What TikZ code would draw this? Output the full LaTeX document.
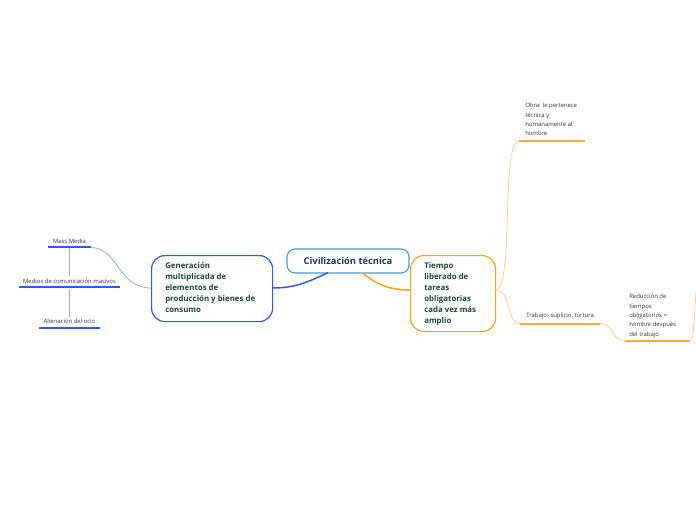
\documentclass[tikz,border=0pt]{standalone}
\usepackage{fontspec}
\setmainfont{Open Sans}
\definecolor{cblue}{HTML}{4A9AD8}
\definecolor{lblue}{HTML}{2D5BEA}
\definecolor{sblue}{HTML}{7FA0F0}
\definecolor{vblue}{HTML}{9AAEDD}
\definecolor{corange}{HTML}{F7A21B}
\definecolor{uorange}{HTML}{F9AD3A}
\definecolor{sorange}{HTML}{FCCB80}
\definecolor{navy}{HTML}{1B3560}
\definecolor{dgreen}{HTML}{194A2C}
\definecolor{stext}{HTML}{333333}
\tikzset{
  mainbox/.style={draw=cblue, line width=0.9pt, rounded corners=6pt, fill=white,
    minimum width=91.5pt, minimum height=18pt, inner sep=0pt,
    font=\bfseries\fontsize{7}{8}\selectfont, text=navy},
  topicbox/.style={draw=#1, line width=0.9pt, rounded corners=10pt, fill=white,
    inner sep=0pt, align=left, anchor=north west},
  topictext/.style={font=\bfseries\fontsize{5.9}{8.25}\selectfont, text=dgreen,
    align=left, anchor=north west, inner sep=0pt},
  subtext/.style={font=\fontsize{4.45}{7}\selectfont, text=stext, inner sep=0pt, align=left},
  bluline/.style={draw=lblue, line width=1.5pt},
  orline/.style={draw=uorange, line width=1.5pt},
  bluconn/.style={draw=lblue, line width=1.1pt},
  orconn/.style={draw=corange, line width=1.1pt},
  lbluconn/.style={draw=sblue, line width=0.5pt},
  vconn/.style={draw=vblue, line width=0.5pt},
  lorconn/.style={draw=sorange, line width=0.5pt},
}
\begin{document}
\begin{tikzpicture}[x=0.75pt, y=-0.75pt]
\useasboundingbox (0,0) rectangle (696,520);
\clip (0,0) rectangle (696,520);

% central node
\node[mainbox] (central) at (348,261) {Civilización técnica};

% left topic
\node[topicbox=lblue, minimum width=90.75pt, minimum height=49.5pt] (left) at (151,255) {};
\node[topictext] (lefttext) at (165,262)
  {Generación\\multiplicada de\\elementos de\\producción y bienes de\\consumo};

% right topic
\node[topicbox=corange, minimum width=63.75pt, minimum height=57pt] (right) at (410,255) {};
\node[topictext] (righttext) at (424,262)
  {Tiempo\\liberado de\\tareas\\obligatorias\\cada vez más\\amplio};

% left subtopics
\node[subtext, anchor=south] (mass) at (69.5,244) {Mass Media};
\coordinate (massL) at (48,247.5); \coordinate (massR) at (91,247.5);
\node[subtext, anchor=south] (medios) at (69.5,284) {Medios de comunicación masivos};
\coordinate (mediosL) at (19,287.5); \coordinate (mediosR) at (120,287.5);
\node[subtext, anchor=south] (alien) at (69.5,324) {Alienación del ocio};
\coordinate (alienL) at (39,327.5); \coordinate (alienR) at (100,327.5);
\path[bluline] (massL) -- (massR);
\path[bluline] (mediosL) -- (mediosR);
\path[bluline] (alienL) -- (alienR);
\coordinate (v1a) at (69,248.5); \coordinate (v1b) at (69,276);
\coordinate (v2a) at (69,289); \coordinate (v2b) at (69,317);
\path[vconn] (v1a) -- (v1b);
\path[vconn] (v2a) -- (v2b);

% right subtopics
\node[subtext, anchor=north west] (obra) at (525,103) {Obra: le pertenece\\técnica y\\humanamente al\\hombre};
\coordinate (obraL) at (519,141.5); \coordinate (obraR) at (585,141.5);
\path[orline] (obraL) -- (obraR);
\node[subtext, anchor=south west] (trab) at (526,319) {Trabajo: suplicio, tortura.};
\coordinate (trabL) at (520,323.5); \coordinate (trabR) at (600,323.5);
\path[orline] (trabL) -- (trabR);
\node[subtext, anchor=north west] (redu) at (629,294) {Reducción de\\tiempos\\obligatorios =\\hombre después\\del trabajo};
\coordinate (reduL) at (625,340.5); \coordinate (reduR) at (690,340.5);
\path[orline] (reduL) -- (reduR);
\coordinate (offscreen) at (702,250);

% connectors
\coordinate (cbl) at (328,272.5);
\coordinate (cbr) at (362,272.5);
\coordinate (lr) at (272,288);
\coordinate (ll) at (151,288);
\coordinate (rl) at (410,290);
\coordinate (rr) at (495,290);
\path[bluconn] (cbl) .. controls (305,284) and (292,288) .. (lr);
\path[orconn] (cbr) .. controls (378,286) and (392,290) .. (rl);
\path[lbluconn] (ll) .. controls (118,288) and (118,247.5) .. (massR);
\path[lorconn] (rr) .. controls (515,290) and (500,141.5) .. (obraL);
\path[lorconn] (rr) .. controls (512,290) and (506,323.5) .. (trabL);
\path[lorconn] (trabR) .. controls (615,323.5) and (610,340.5) .. (reduL);
\path[lorconn] (reduR) .. controls (696,340.5) and (692,300) .. (offscreen);
\end{tikzpicture}
\end{document}
